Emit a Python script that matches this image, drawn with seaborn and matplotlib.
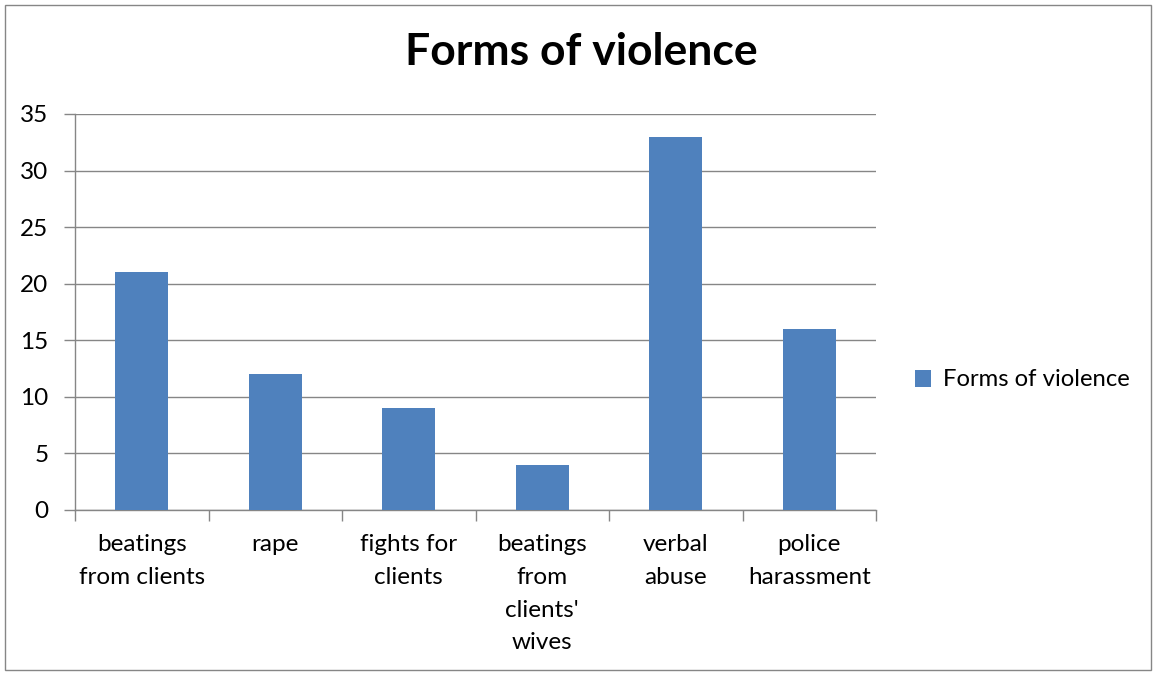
import matplotlib
matplotlib.use("Agg")
import matplotlib.pyplot as plt
import seaborn as sns
import pandas as pd
from matplotlib.patches import Rectangle, Patch

categories = ["beatings\nfrom clients", "rape", "fights for\nclients",
              "beatings\nfrom\nclients'\nwives", "verbal\nabuse", "police\nharassment"]
values = [21, 12, 9, 4, 33, 16]
series_name = "Forms of violence"
title = "Forms of violence"
yticks = [0, 5, 10, 15, 20, 25, 30, 35]

sns.set_theme(style="white")
plt.rcParams['font.family'] = ['Lato', 'DejaVu Sans']
plt.rcParams['text.color'] = 'black'
plt.rcParams['xtick.color'] = 'black'
plt.rcParams['ytick.color'] = 'black'

W, H = 1157, 675
fig = plt.figure(figsize=(W / 100, H / 100), dpi=100)
fig.patches.append(Rectangle((5 / W, 5 / H), (1151 - 5) / W, (670 - 5) / H,
                             transform=fig.transFigure, fill=False,
                             edgecolor="#868686", linewidth=1.0))

ax = fig.add_axes([75 / W, (H - 510) / H, (876 - 75) / W, (510 - 114) / H])
df = pd.DataFrame({"category": categories, "value": values})
sns.barplot(data=df, x="category", y="value", color="#4F81BD", width=0.4,
            saturation=1, ax=ax, zorder=3, linewidth=0)

ax.set_ylim(0, 35)
ax.set_xlim(-0.5, len(categories) - 0.5)
ax.set_yticks(yticks)
ax.set_yticklabels([str(t) for t in yticks], fontsize=17.5)
ax.yaxis.grid(True, color="#868686", linewidth=1.0, zorder=0)
ax.set_xlabel("")
ax.set_ylabel("")

for s in ["top", "right"]:
    ax.spines[s].set_visible(False)
for s in ["left", "bottom"]:
    ax.spines[s].set_color("#868686")
    ax.spines[s].set_linewidth(1.0)

ax.set_xticks([i for i in range(len(categories))])
ax.set_xticklabels(categories, fontsize=17.5, linespacing=1.69, va="top")
ax.tick_params(axis="x", which="major", length=0, pad=17.5, bottom=True)
ax.set_xticks([i - 0.5 for i in range(len(categories) + 1)], minor=True)
ax.tick_params(axis="x", which="minor", length=8, color="#868686", width=1.0,
               direction="out", bottom=True)
ax.tick_params(axis="y", length=8, color="#868686", labelcolor="black", width=1.0,
               direction="out", pad=11, left=True)
for lab in ax.get_yticklabels():
    lab.set_horizontalalignment("right")

fig.text(581 / W, 1 - 52 / H, title, ha="center", va="center",
         fontsize=32, fontweight="bold", color="black")

handles = [Patch(facecolor="#4F81BD", edgecolor="none", label=series_name)]
fig.legend(handles=handles, loc="center left", bbox_to_anchor=(905 / W, 1 - 380 / H),
           frameon=False, fontsize=17.2, handlelength=0.7, handleheight=0.7,
           handletextpad=0.5, borderaxespad=0, labelcolor="black")

fig.savefig("out.png", dpi=100)
